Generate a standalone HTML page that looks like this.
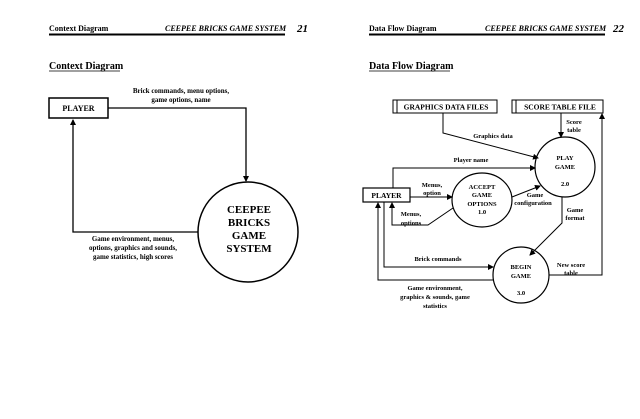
<!DOCTYPE html>
<html><head><style>
html,body{margin:0;padding:0;background:#fff;}
svg{display:block;font-family:"Liberation Serif",serif;font-weight:bold;}
</style></head><body>
<svg width="640" height="419" viewBox="0 0 640 419" xmlns="http://www.w3.org/2000/svg">
<defs>
<marker id="a" markerWidth="6" markerHeight="6" refX="5" refY="3" orient="auto" markerUnits="userSpaceOnUse"><path d="M0,0 L6,3 L0,6 z" fill="#000"/></marker>
</defs>
<rect width="640" height="419" fill="#fff"/>
<g font-size="8" fill="#000">
<!-- left header -->
<text x="49" y="31">Context Diagram</text>
<text x="165" y="31" font-style="italic">CEEPEE BRICKS GAME SYSTEM</text>
<text x="297" y="32" font-size="11" font-style="italic">21</text>
<line x1="49" y1="34.5" x2="285" y2="34.5" stroke="#000" stroke-width="2"/>
<text x="49" y="69" font-size="10">Context Diagram</text>
<line x1="49" y1="71" x2="120" y2="71" stroke="#000" stroke-width="0.8"/>
<rect x="49" y="98" width="59" height="20" fill="none" stroke="#000" stroke-width="1.5"/>
<text x="78.5" y="111" text-anchor="middle">PLAYER</text>
<polyline points="108,108 246,108 246,181" fill="none" stroke="#000" stroke-width="1.3" marker-end="url(#a)"/>
<polyline points="198,232 73,232 73,120" fill="none" stroke="#000" stroke-width="1.3" marker-end="url(#a)"/>
<circle cx="248" cy="232" r="50" fill="none" stroke="#000" stroke-width="1.5"/>
<g text-anchor="middle" font-size="7">
<text x="181" y="93">Brick commands, menu options,</text>
<text x="181" y="102">game options, name</text>
<text x="133" y="241">Game environment, menus,</text>
<text x="133" y="250">options, graphics and sounds,</text>
<text x="133" y="259">game statistics, high scores</text>
</g>
<g text-anchor="middle" font-size="11">
<text x="249" y="213">CEEPEE</text>
<text x="249" y="226">BRICKS</text>
<text x="249" y="239">GAME</text>
<text x="249" y="252">SYSTEM</text>
</g>
<!-- right header -->
<text x="369" y="31">Data Flow Diagram</text>
<text x="485" y="31" font-style="italic">CEEPEE BRICKS GAME SYSTEM</text>
<text x="613" y="32" font-size="11" font-style="italic">22</text>
<line x1="369" y1="34.5" x2="605" y2="34.5" stroke="#000" stroke-width="2"/>
<text x="369" y="69" font-size="10">Data Flow Diagram</text>
<line x1="369" y1="71" x2="450" y2="71" stroke="#000" stroke-width="0.8"/>
<rect x="393" y="100" width="104" height="13" fill="none" stroke="#000" stroke-width="1"/>
<line x1="397" y1="100" x2="397" y2="113" stroke="#000"/>
<text x="446" y="109.5" text-anchor="middle" font-size="7.5">GRAPHICS DATA FILES</text>
<rect x="512" y="100" width="91" height="13" fill="none" stroke="#000" stroke-width="1"/>
<line x1="516" y1="100" x2="516" y2="113" stroke="#000"/>
<text x="560" y="109.5" text-anchor="middle" font-size="7.5">SCORE TABLE FILE</text>
<rect x="363" y="188" width="47" height="14" fill="none" stroke="#000" stroke-width="1.2"/>
<text x="386.5" y="198" text-anchor="middle" font-size="7.5">PLAYER</text>
<circle cx="565" cy="167" r="30" fill="none" stroke="#000" stroke-width="1.2"/>
<ellipse cx="482" cy="200" rx="30" ry="27" fill="none" stroke="#000" stroke-width="1.2"/>
<circle cx="521" cy="275" r="28" fill="none" stroke="#000" stroke-width="1.2"/>
<g fill="none" stroke="#000" stroke-width="1">
<polyline points="443,113 443,133 538,158" marker-end="url(#a)"/>
<polyline points="561,113 561,137" marker-end="url(#a)"/>
<polyline points="393,188 393,168 535,168" marker-end="url(#a)"/>
<polyline points="410,197 452,197" marker-end="url(#a)"/>
<polyline points="453,208 428,225 392,225 392,203" marker-end="url(#a)"/>
<polyline points="512,197 540,186" marker-end="url(#a)"/>
<polyline points="562,197 562,223 530,255" marker-end="url(#a)"/>
<polyline points="384,202 384,267 493,267" marker-end="url(#a)"/>
<polyline points="493,280 378,280 378,203" marker-end="url(#a)"/>
<polyline points="549,275 602,275 602,114" marker-end="url(#a)"/>
</g>
<g font-size="6.5" text-anchor="middle">
<text x="493" y="138">Graphics data</text>
<text x="574" y="124">Score</text><text x="574" y="132">table</text>
<text x="471" y="162">Player name</text>
<text x="432" y="187">Menus,</text><text x="432" y="195">option</text>
<text x="411" y="216">Menus,</text><text x="411" y="225">options</text>
<text x="535" y="197">Game</text><text x="533" y="205">configuration</text>
<text x="575" y="212">Game</text><text x="575" y="220">format</text>
<text x="438" y="261">Brick commands</text>
<text x="571" y="267">New score</text><text x="571" y="275">table</text>
<text x="435" y="290">Game environment,</text>
<text x="435" y="299">graphics &amp; sounds, game</text>
<text x="435" y="308">statistics</text>
<text x="565" y="160">PLAY</text><text x="565" y="169">GAME</text><text x="565" y="186">2.0</text>
<text x="482" y="189">ACCEPT</text><text x="482" y="197">GAME</text><text x="482" y="206">OPTIONS</text><text x="482" y="214">1.0</text>
<text x="521" y="269">BEGIN</text><text x="521" y="278">GAME</text><text x="521" y="295">3.0</text>
</g>
</g>
</svg>
</body></html>
